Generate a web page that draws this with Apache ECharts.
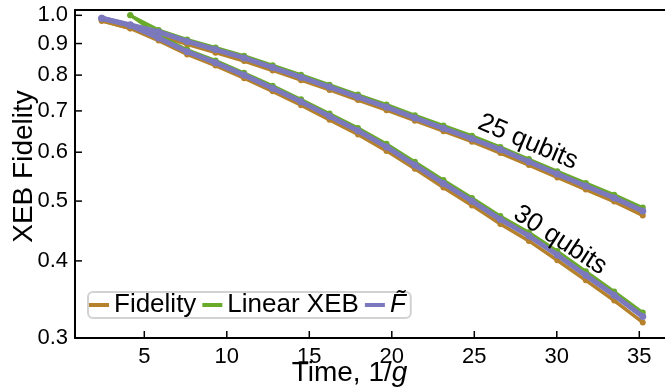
<!DOCTYPE html>
<html>
<head>
<meta charset="utf-8">
<script src="https://cdn.jsdelivr.net/npm/echarts@6/dist/echarts.min.js"></script>
<style>
html,body{margin:0;padding:0;background:#fff;}
#c{width:665px;height:389px;}
</style>
</head>
<body>
<div id="c"></div>
<script>
// Time values (1/g)
const times = [2.42, 4.15, 5.87, 7.60, 9.32, 11.05, 12.78, 14.50, 16.23, 17.95, 19.68, 21.40, 23.13, 24.86, 26.58, 28.31, 30.03, 31.76, 33.48, 35.21];

// 25 qubits
const fid25 = [0.980, 0.953, 0.928, 0.897, 0.870, 0.843, 0.814, 0.785, 0.757, 0.729, 0.702, 0.675, 0.649, 0.624, 0.598, 0.572, 0.546, 0.522, 0.499, 0.474];
const xeb25 = [null, 1.000, 0.947, 0.914, 0.887, 0.860, 0.830, 0.801, 0.772, 0.744, 0.717, 0.689, 0.663, 0.638, 0.612, 0.585, 0.559, 0.535, 0.512, 0.488];
const ft25  = [0.989, 0.965, 0.940, 0.907, 0.880, 0.853, 0.823, 0.794, 0.765, 0.737, 0.710, 0.682, 0.656, 0.631, 0.606, 0.579, 0.553, 0.529, 0.506, 0.482];

// 30 qubits
const fid30 = [0.980, 0.952, 0.910, 0.864, 0.829, 0.791, 0.753, 0.715, 0.677, 0.641, 0.603, 0.564, 0.526, 0.492, 0.459, 0.431, 0.401, 0.372, 0.345, 0.318];
const xeb30 = [null, 1.000, 0.928, 0.880, 0.845, 0.807, 0.769, 0.731, 0.693, 0.657, 0.619, 0.579, 0.541, 0.506, 0.473, 0.445, 0.415, 0.385, 0.357, 0.330];
const ft30  = [0.989, 0.963, 0.919, 0.873, 0.838, 0.800, 0.762, 0.724, 0.686, 0.650, 0.612, 0.572, 0.534, 0.500, 0.467, 0.439, 0.409, 0.379, 0.352, 0.325];

const xTicks = [5, 10, 15, 20, 25, 30, 35];
const yTicks = [0.3, 0.4, 0.5, 0.6, 0.7, 0.8, 0.9, 1.0];

const X_MIN = 0.8, X_MAX = 36.74, Y_MIN = 0.3, Y_MAX = 1.02;

const names = ['Fidelity', 'Linear XEB', 'Ftilde'];
const colors = {'Fidelity': '#b5822b', 'Linear XEB': '#69aa2b', 'Ftilde': '#7b78bd'};

const FONT = 'Liberation Sans, Arial, sans-serif';

function pairs(ys) { return times.map((t, i) => [t, ys[i]]); }

function mk(name, ys, z, lw, ss, label) {
  const s = {
    name: name, type: 'line', data: pairs(ys), z: z,
    symbol: 'circle', symbolSize: ss, showSymbol: true,
    connectNulls: false,
    lineStyle: {color: colors[name], width: lw},
    itemStyle: {color: colors[name]},
    clip: true, animation: false
  };
  if (label) {
    s.markPoint = {
      symbol: 'circle', symbolSize: 0, animation: false,
      data: [{coord: label.coord, value: label.text}],
      label: {
        show: true, formatter: label.text, color: '#000',
        fontSize: 26, fontFamily: FONT, rotate: label.rotate,
        position: 'inside'
      }
    };
  }
  return s;
}

// Inward tick marks + tick labels, placed at the tick values through the axes
const xTickSeries = {
  type: 'scatter', name: '_xt', silent: true, z: 21, clip: false, animation: false,
  symbol: 'rect', symbolSize: [1.5, 7], symbolOffset: [0, -3.5],
  itemStyle: {color: '#000', opacity: 1},
  label: {show: true, position: 'bottom', distance: 8, color: '#000', fontSize: 22, fontFamily: FONT,
    formatter: function (p) { return String(p.value[0]); }},
  data: xTicks.map(v => [v, Y_MIN])
};
const yTickSeries = {
  type: 'scatter', name: '_yt', silent: true, z: 21, clip: false, animation: false,
  symbol: 'rect', symbolSize: [7, 1.5], symbolOffset: [3.5, 0],
  itemStyle: {color: '#000', opacity: 1},
  label: {show: true, position: 'left', distance: 7, color: '#000', fontSize: 22, fontFamily: FONT,
    formatter: function (p) { return Number(p.value[1]).toFixed(1); }},
  data: yTicks.map(v => [X_MIN, v])
};

const chart = echarts.init(document.getElementById('c'), null, {renderer: 'canvas'});

chart.setOption({
  animation: false,
  backgroundColor: '#fff',
  grid: {left: 75, top: 10, right: -3, bottom: 51, containLabel: false, outerBoundsMode: 'none'},
  legend: {
    data: names,
    left: 88, top: 292,
    orient: 'horizontal',
    padding: [0, 5, 0, 1],
    itemGap: 6, itemWidth: 20, itemHeight: 4,
    icon: 'rect',
    borderColor: '#d2d2d2', borderWidth: 2, borderRadius: 5,
    backgroundColor: 'rgba(255,255,255,0.8)',
    formatter: function (n) { return n === 'Ftilde' ? '{i|F\u0303}' : n; },
    textStyle: {
      fontSize: 26, fontFamily: FONT, color: '#000',
      rich: {i: {fontSize: 26, fontStyle: 'italic', fontFamily: FONT, color: '#000'}}
    },
    selectedMode: false
  },
  xAxis: [{
    type: 'value', min: X_MIN, max: X_MAX, position: 'bottom',
    axisLine: {show: true, onZero: false, lineStyle: {color: '#000', width: 2}},
    axisTick: {show: false},
    axisLabel: {show: false},
    splitLine: {show: false},
    name: 'Time, {n|1/}{g|g}',
    nameLocation: 'middle', nameGap: 21, nameMoveOverlap: false,
    nameTextStyle: {
      fontSize: 28, fontFamily: FONT, color: '#000', padding: [0, 44, 0, 0],
      rich: {n: {fontSize: 28, fontFamily: FONT, color: '#000'}, g: {fontSize: 28, fontFamily: FONT, fontStyle: 'italic', color: '#000'}}
    }
  }, {
    type: 'value', min: X_MIN, max: X_MAX, position: 'top',
    axisLine: {show: true, onZero: false, lineStyle: {color: '#000', width: 2}},
    axisTick: {show: false}, axisLabel: {show: false}, splitLine: {show: false}
  }],
  yAxis: {
    type: 'log', logBase: 10, min: Y_MIN, max: Y_MAX,
    axisLine: {show: true, onZero: false, lineStyle: {color: '#000', width: 2}},
    axisTick: {show: false},
    axisLabel: {show: false},
    minorTick: {show: false},
    splitLine: {show: false},
    name: 'XEB Fidelity', nameLocation: 'middle', nameGap: 37, nameRotate: 90, nameMoveOverlap: false,
    nameTextStyle: {fontSize: 28, fontFamily: FONT, color: '#000', padding: [0, 0, 0, 15]}
  },
  series: [
    mk('Fidelity', fid25, 2, 3.5, 6),
    mk('Fidelity', fid30, 2, 3.5, 6),
    mk('Linear XEB', xeb25, 3, 3, 6),
    mk('Linear XEB', xeb30, 3, 3, 6),
    mk('Ftilde', ft25, 4, 5, 7, {coord: [28.25, 0.623], text: '25 qubits', rotate: -23}),
    mk('Ftilde', ft30, 4, 5, 7, {coord: [30.2, 0.432], text: '30 qubits', rotate: -33}),
    xTickSeries, yTickSeries
  ]
});
</script>
</body>
</html>
